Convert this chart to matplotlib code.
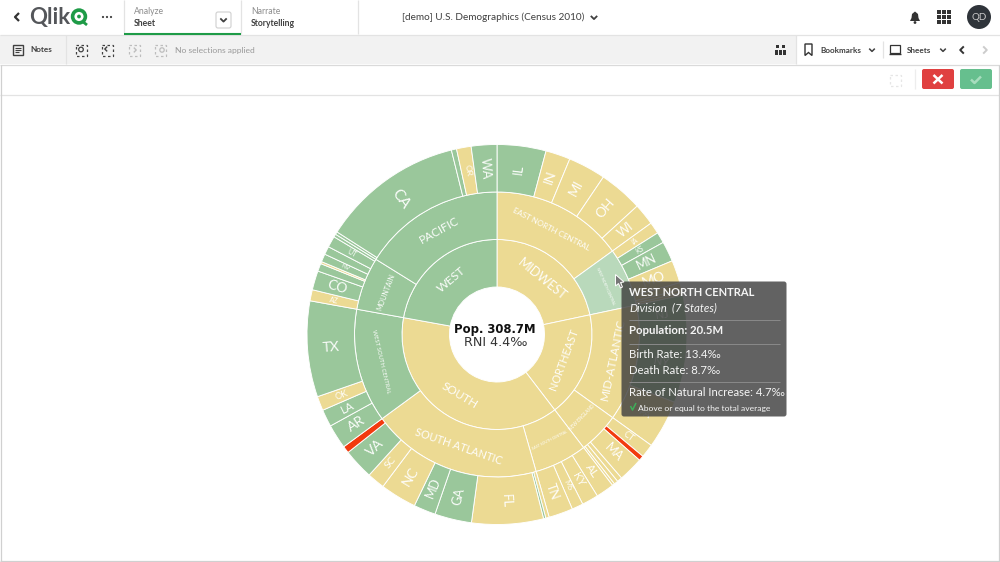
import matplotlib
matplotlib.use("Agg")
import matplotlib.pyplot as plt
from matplotlib.patches import FancyBboxPatch, Rectangle, Circle, Polygon
import numpy as np

plt.rcParams['font.family'] = ['Lato', 'DejaVu Sans']

regions = ["MIDWEST", "NORTHEAST", "SOUTH", "WEST"]
region_values = [66.92, 55.32, 118.04, 68.40]

divisions = ["EAST NORTH CENTRAL", "WEST NORTH CENTRAL", "MID-ATLANTIC", "NEW ENGLAND",
             "EAST SOUTH CENTRAL", "SOUTH ATLANTIC", "WEST SOUTH CENTRAL", "MOUNTAIN", "PACIFIC"]
division_values = [46.42, 20.50, 40.87, 14.45, 18.44, 59.78, 39.82, 18.53, 49.87]

states = ["IL", "IN", "MI", "OH", "WI",
          "IA", "KS", "MN", "MO", "NE", "SD", "ND",
          "NJ", "NY", "PA",
          "CT", "ME", "MA", "NH", "RI", "VT",
          "AL", "KY", "MS", "TN",
          "DE", "DC", "FL", "GA", "MD", "NC", "SC", "VA", "WV",
          "AR", "LA", "OK", "TX",
          "AZ", "CO", "NM", "WY", "NV", "ID", "UT", "MT",
          "AK", "CA", "HI", "OR", "WA"]
state_values = [12.83, 6.48, 9.88, 11.54, 5.69,
                3.05, 2.85, 5.30, 5.99, 1.83, 0.81, 0.67,
                8.79, 19.38, 12.70,
                3.57, 1.33, 6.55, 1.32, 1.05, 0.63,
                4.78, 4.34, 2.97, 6.35,
                0.90, 0.60, 18.80, 9.69, 5.77, 9.54, 4.63, 8.00, 1.85,
                6.39, 4.53, 3.75, 25.15,
                2.92, 5.03, 2.06, 0.56, 2.10, 2.14, 2.95, 0.77,
                0.71, 37.25, 1.36, 3.83, 6.72]

# ---------- status by rate of natural increase
green_states = {"IL", "KS", "MN", "NJ", "NY", "DC", "GA", "MD", "VA", "AR", "LA", "TX",
                "CO", "NM", "NV", "ID", "UT", "MT", "AK", "CA", "HI", "WA"}
red_states = {"ME", "WV"}
green_divisions = {"WEST SOUTH CENTRAL", "MOUNTAIN", "PACIFIC"}
hover_division = "WEST NORTH CENTRAL"
green_regions = {"WEST"}

YEL, GRN, LGRN, RED = "#ECDA93", "#9AC79B", "#B9D9BB", "#F23A0E"
state_colors = [RED if s in red_states else GRN if s in green_states else YEL for s in states]
division_colors = [LGRN if d == hover_division else GRN if d in green_divisions else YEL for d in divisions]
region_colors = [GRN if r in green_regions else YEL for r in regions]

state_font = {"IL": 9.5, "IN": 9.5, "MI": 9.5, "OH": 10, "WI": 9, "IA": 5, "KS": 5, "MN": 9, "MO": 10,
              "NJ": 8, "NY": 8, "PA": 7, "CT": 6.5, "MA": 9, "AL": 8.5, "KY": 8, "MS": 5.5,
              "TN": 9, "FL": 9.5, "GA": 9, "MD": 9, "NC": 10, "SC": 7.5, "VA": 10, "AR": 10,
              "LA": 8.5, "OK": 6.5, "TX": 10, "AZ": 5, "CO": 10, "NV": 4.5, "UT": 5, "CA": 11,
              "OR": 6, "WA": 9}
division_font = {"EAST NORTH CENTRAL": 5.7, "WEST NORTH CENTRAL": 2.6, "MID-ATLANTIC": 8.5,
                 "NEW ENGLAND": 3.4, "EAST SOUTH CENTRAL": 2.6, "SOUTH ATLANTIC": 7.8,
                 "WEST SOUTH CENTRAL": 4.2, "MOUNTAIN": 5, "PACIFIC": 8.5}
region_font = {"MIDWEST": 9, "NORTHEAST": 7.8, "SOUTH": 8.5, "WEST": 8.8}

# ---------- figure
fig = plt.figure(figsize=(10, 5.62), dpi=100, facecolor="white")
ui = fig.add_axes([0, 0, 1, 1], zorder=1)
ui.set_xlim(0, 1000); ui.set_ylim(562, 0); ui.axis("off")

DK, MID, LT = "#404040", "#595959", "#BDBDBD"
SEP = "#E3E3E3"


def line(xs, ys, c=SEP, lw=0.9, ax=ui, **kw):
    ax.plot(xs, ys, color=c, lw=lw, solid_capstyle="butt", **kw)


def txt(x, y, s, size=6.8, c=DK, ax=ui, **kw):
    kw.setdefault("va", "center")
    ax.text(x, y, s, fontsize=size, color=c, **kw)


def chev(x, y, d="down", c=DK, s=3.2, lw=1.3):
    if d == "down":
        line([x - s, x, x + s], [y - s / 2, y + s / 2, y - s / 2], c, lw)
    elif d == "left":
        line([x + s / 2, x - s / 2, x + s / 2], [y - s, y, y + s], c, lw)
    else:
        line([x - s / 2, x + s / 2, x - s / 2], [y - s, y, y + s], c, lw)


def dashed_box(x, y, c=DK, s=5.5):
    ui.add_patch(Rectangle((x - s, y - s), 2 * s, 2 * s, fill=False, ec=c, lw=0.9, ls=(0, (2, 2))))


# bars
ui.add_patch(Rectangle((0, 35), 796, 29, fc="#F2F2F2", ec="none"))
line([0, 1000], [34.5, 34.5])
line([0, 1000], [64.5, 64.5], "#DADADA")
line([0, 1000], [94.5, 94.5])
line([0.8, 0.8], [65, 561], "#D0D0D0")
line([999.2, 999.2], [65, 561], "#D0D0D0")
line([0, 1000], [561, 561], "#D0D0D0")
for x in [124, 241, 358]:
    line([x, x], [0, 34])
line([124, 241], [34, 34], "#1E9B47", 1.5)
for x in [66, 796]:
    line([x, x], [35, 64])
line([883, 883], [41, 58])
line([915, 915], [69, 89], "#EDEDED")

# top bar
chev(17, 17, "left", "#333333", 4, 1.6)
ui.text(29, 17.5, "Qlik", fontsize=16, fontweight="bold", color="#54565A", va="center")
ui.add_patch(Circle((79, 16.5), 6.4, fc="none", ec="#1E9B47", lw=2.6))
ui.add_patch(Circle((79, 16.5), 1.9, fc="#1E9B47", ec="none"))
line([82, 87], [21, 25], "#1E9B47", 2)
for x in [103, 107, 111]:
    ui.add_patch(Circle((x, 17), 1.1, fc=DK, ec="none"))
txt(134, 11, "Analyze", 6.2, "#8C8C8C")
txt(134, 23, "Sheet", 6.2, DK, fontweight="bold")
ui.add_patch(FancyBboxPatch((216, 12), 15, 16, boxstyle="round,pad=0,rounding_size=2", fc="white", ec="#CFCFCF", lw=0.8))
chev(223.5, 20)
txt(251, 11, "Narrate", 6.2, "#8C8C8C")
txt(251, 23, "Storytelling", 6.2, DK, fontweight="bold")
txt(402, 17.5, "[demo] U.S. Demographics (Census 2010)", 7.2, DK)
chev(594, 17.5)
ui.add_patch(Polygon([[910, 21], [911.5, 18], [912, 14], [915, 11.5], [918, 14], [918.5, 18], [920, 21]], fc="#333333", ec="none"))
ui.add_patch(Circle((915, 22.5), 1.4, fc="#333333", ec="none"))
for dx in [-5, 0, 5]:
    for dy in [-5, 0, 5]:
        ui.add_patch(Rectangle((944 + dx - 1.6, 17 + dy - 1.6), 3.2, 3.2, fc="#333333", ec="none"))
ui.add_patch(Circle((979, 17), 12, fc="#2F343A", ec="none"))
txt(979, 17.5, "QD", 7, "#C8C8C8", ha="center")

# selection bar
ui.add_patch(Rectangle((13, 45), 10, 10, fc="none", ec=DK, lw=1))
line([15, 21], [48, 48], DK, 0.8); line([15, 21], [50, 50], DK, 0.8); line([15, 19], [52, 52], DK, 0.8)
txt(30, 50, "Notes", 5.9, DK, fontweight="bold")
dashed_box(81, 50); ui.add_patch(Circle((81, 49.5), 2.3, fc="none", ec=DK, lw=0.9))
dashed_box(107, 50); chev(106, 49, "left", DK, 2.4, 1)
dashed_box(134, 50, LT); chev(135, 50, "right", LT, 2.4, 1)
dashed_box(160, 50, LT); ui.add_patch(Circle((162, 50), 2.2, fc="none", ec=LT, lw=0.9))
txt(175, 50, "No selections applied", 6.1, "#999999")
for x, y, w, h in [(775.5, 44.5, 3.5, 3.5), (781.5, 44.5, 3.5, 3.5), (775, 50, 3, 5), (779, 50, 3, 5), (783, 50, 3, 5)]:
    ui.add_patch(Rectangle((x, y), w, h, fc="#333333", ec="none"))
ui.add_patch(Polygon([[805, 44], [812, 44], [812, 55.5], [808.5, 52.5], [805, 55.5]], closed=True, fc="none", ec="#333333", lw=1))
txt(820, 50.3, "Bookmarks", 5.9, DK, fontweight="bold")
chev(872, 50, "down", DK, 2.8, 1.1)
ui.add_patch(Rectangle((890, 45), 10, 8, fc="none", ec="#333333", lw=0.9))
line([889, 901], [54, 54], "#333333", 1)
txt(907, 50.3, "Sheets", 5.9, DK, fontweight="bold")
chev(943, 50, "down", DK, 2.8, 1.1)
chev(962, 50, "left", "#333333", 3.6, 1.4)
chev(985, 50, "right", "#CCCCCC", 3.6, 1.4)

# edit bar
dashed_box(895, 80, "#E6E6E6")
ui.add_patch(FancyBboxPatch((922, 69), 32, 20, boxstyle="round,pad=0,rounding_size=2", fc="#E04040", ec="none"))
line([933.5, 942.5], [75, 83.5], "white", 1.8); line([933.5, 942.5], [83.5, 75], "white", 1.8)
ui.add_patch(FancyBboxPatch((960, 69), 32, 20, boxstyle="round,pad=0,rounding_size=2", fc="#66BF8E", ec="none"))
line([971, 974.5, 981], [79.5, 83, 76.5], "#A8DDBE", 1.8)

# ---------- sunburst
cx, cy, R = 497.0, 334.5, 190.0
ax = fig.add_axes([(cx - R) / 1000, (562 - cy - R) / 562, 2 * R / 1000, 2 * R / 562], zorder=2)
ax.patch.set_alpha(0)
wedge = dict(edgecolor="white", linewidth=0.65, width=0.25)
ax.pie(region_values, radius=0.5, colors=region_colors, startangle=90, counterclock=False, wedgeprops=wedge)
ax.pie(division_values, radius=0.75, colors=division_colors, startangle=90, counterclock=False, wedgeprops=wedge)
ax.pie(state_values, radius=1.0, colors=state_colors, startangle=90, counterclock=False, wedgeprops=wedge)
ax.set_xlim(-1, 1); ax.set_ylim(-1, 1); ax.axis("off")


def ring_labels(names, values, fonts, r, radial):
    vals = np.array(values, float)
    mids = (np.cumsum(vals) - vals / 2) / vals.sum() * 360
    for n, a in zip(names, mids):
        if n not in fonts:
            continue
        t = np.radians(a)
        if radial:
            rot = 90 - a + (180 if a > 180 else 0)
        else:
            rot = -a + (180 if 90 < a < 270 else 0)
        ax.text(r * np.sin(t), r * np.cos(t), n, fontsize=fonts[n], color="white", alpha=0.95,
                rotation=rot, rotation_mode="anchor", ha="center", va="center")


ring_labels(regions, region_values, region_font, 0.375, False)
ring_labels(divisions, division_values, division_font, 0.625, False)
ring_labels(states, state_values, state_font, 0.875, True)

# ---------- overlay
ov = fig.add_axes([0, 0, 1, 1], zorder=3)
ov.set_xlim(0, 1000); ov.set_ylim(562, 0); ov.axis("off"); ov.patch.set_alpha(0)
ov.text(494.5, 329, "Pop. 308.7M", family="DejaVu Sans", fontweight="bold", fontsize=8.4, color="#111111", ha="center", va="center")
ov.text(496, 343, "RNI 4.4‰", family="DejaVu Sans", fontsize=9.2, color="#333333", ha="center", va="center")

ov.add_patch(FancyBboxPatch((621.5, 281.5), 165, 135, boxstyle="round,pad=0,rounding_size=2.5",
                            fc="#404040", ec="none", alpha=0.82))
W = "#F5F5F5"
ov.text(629, 292, "WEST NORTH CENTRAL", fontsize=8, fontweight="bold", color=W, va="center")
ov.text(629, 308, "Division", fontsize=8.2, style="italic", color=W, va="center")
ov.text(672, 308, "(7 States)", fontsize=8.2, style="italic", color=W, va="center")
line([629, 780], [319.5, 319.5], "#8A8A8A", 0.7, ax=ov)
ov.text(629, 331, "Population: 20.5M", fontsize=8.2, fontweight="bold", color=W, va="center")
line([629, 780], [343.5, 343.5], "#8A8A8A", 0.7, ax=ov)
ov.text(629, 355, "Birth Rate: 13.4‰", fontsize=8.2, color=W, va="center")
ov.text(629, 370, "Death Rate: 8.7‰", fontsize=8.2, color=W, va="center")
line([629, 780], [381.5, 381.5], "#8A8A8A", 0.7, ax=ov)
ov.text(629, 393, "Rate of Natural Increase: 4.7‰", fontsize=8.2, color=W, va="center")
line([630.5, 632.5, 636], [406, 410, 403], "#3FAE5A", 1.1, ax=ov)
ov.text(638, 408, "Above or equal to the total average", fontsize=6.1, color=W, va="center")

ov.add_patch(Polygon([[615.5, 274.5], [615.5, 286], [618.5, 283.5], [620.5, 288], [622.5, 287], [620.5, 282.5], [624, 282]],
                     closed=True, fc="#777777", ec="white", lw=0.7))

fig.savefig("out.png", dpi=100)
